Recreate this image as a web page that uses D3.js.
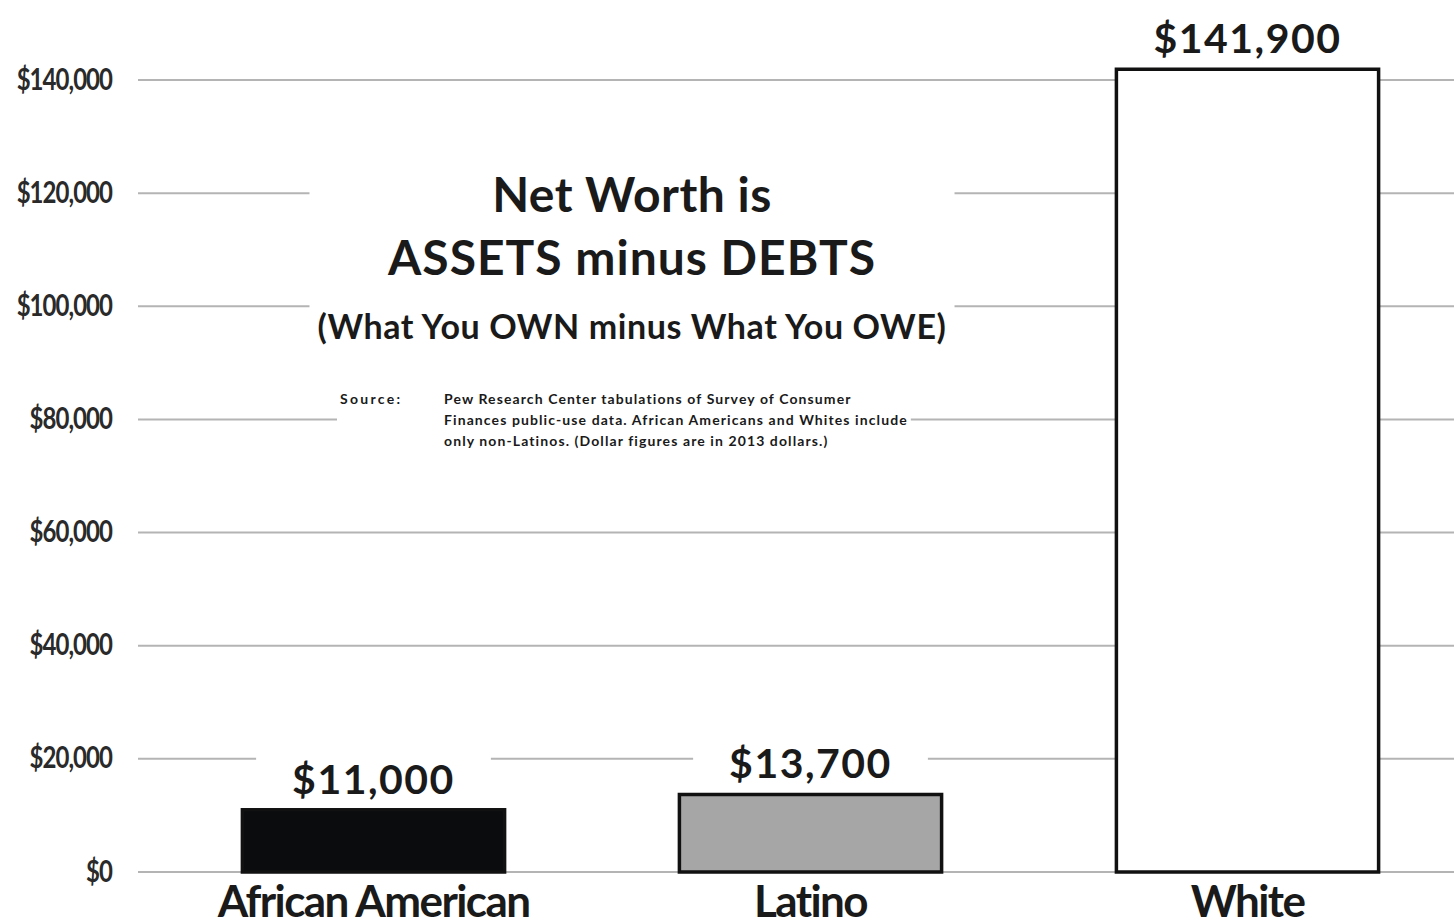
<!DOCTYPE html>
<html>
<head>
  <style>
    body { margin: 0; background: #fff; }
    .tick text { font-family: Lato, "Open Sans", sans-serif; font-weight: bold; }
    .bold { font-family: Lato, "Open Sans", sans-serif; font-weight: bold; fill: #1a1a1a; }
  </style>
  <script src="https://d3js.org/d3.v7.min.js"></script>
</head>
<body>
  <svg width="1454" height="920"></svg>
  <script>
    var groups = ["African American", "Latino", "White"];
    var netWorth = [11000, 13700, 141900];
    var valueLabels = ["$11,000", "$13,700", "$141,900"];
    var fills = ["#0a0c0d", "#a6a6a6", "#ffffff"];
    var yTicks = [0, 20000, 40000, 60000, 80000, 100000, 120000, 140000];
    var sourceLines = [
      "Pew Research Center tabulations of Survey of Consumer",
      "Finances public-use data. African Americans and Whites include",
      "only non-Latinos. (Dollar figures are in 2013 dollars.)"
    ];

    var svg = d3.select("svg");
    var width = 1454, height = 920;

    var x = d3.scaleBand().domain(groups).range([155, 1466]).paddingInner(0.4).paddingOuter(0.2);
    var y = d3.scaleLinear().domain([0, 140000]).range([872, 80]);

    // grid lines
    var grid = svg.append("g");
    grid.selectAll("line").data(yTicks).enter().append("line")
      .attr("x1", 138).attr("x2", width)
      .attr("y1", function (d) { return y(d); }).attr("y2", function (d) { return y(d); })
      .attr("stroke", "#b4b4b4").attr("stroke-width", 2);

    // y axis labels (condensed look)
    var yAxis = svg.append("g").attr("transform", "translate(112,0)")
      .call(d3.axisLeft(y).tickValues(yTicks).tickSize(0).tickPadding(0)
        .tickFormat(function (d) { return "$" + d3.format(",")(d); }));
    yAxis.select(".domain").remove();
    yAxis.selectAll("text").attr("font-size", 30).attr("fill", "#2a2a2a")
      .attr("letter-spacing", -1.2).attr("dy", "0.3em")
      .attr("transform", "scale(0.8,1)");

    // helper: white box behind a text group
    function knockout(g, padX, padY) {
      var b = g.node().getBBox();
      g.insert("rect", ":first-child")
        .attr("x", b.x - padX).attr("y", b.y - padY)
        .attr("width", b.width + 2 * padX).attr("height", b.height + 2 * padY)
        .attr("fill", "#fff");
    }

    // title block
    var title = svg.append("g");
    title.append("text").attr("class", "bold").attr("x", 632).attr("y", 212)
      .attr("text-anchor", "middle").attr("font-size", 48).attr("letter-spacing", 0.5).text("Net Worth is");
    title.append("text").attr("class", "bold").attr("x", 632).attr("y", 275)
      .attr("text-anchor", "middle").attr("font-size", 48).attr("letter-spacing", 1).text("ASSETS minus DEBTS");
    title.append("text").attr("class", "bold").attr("x", 632).attr("y", 339)
      .attr("text-anchor", "middle").attr("font-size", 34).attr("letter-spacing", 0.6).text("(What You OWN minus What You OWE)");
    knockout(title, 8, 6);

    var src = svg.append("g");
    src.append("text").attr("class", "bold").attr("x", 340).attr("y", 404)
      .attr("font-size", 14).attr("letter-spacing", 2.3).text("Source:");
    src.selectAll("text.line").data(sourceLines).enter().append("text")
      .attr("class", "bold line").attr("x", 444)
      .attr("y", function (d, i) { return 404 + i * 21; })
      .attr("font-size", 14).attr("letter-spacing", 1.1).text(function (d) { return d; });
    knockout(src, 3, 2);

    // bars
    svg.append("g").selectAll("rect").data(groups).enter().append("rect")
      .attr("x", function (d) { return x(d); })
      .attr("y", function (d, i) { return y(netWorth[i]); })
      .attr("width", x.bandwidth())
      .attr("height", function (d, i) { return y(0) - y(netWorth[i]); })
      .attr("fill", function (d, i) { return fills[i]; })
      .attr("stroke", "#111").attr("stroke-width", 3.5);

    // value labels
    groups.forEach(function (d, i) {
      var g = svg.append("g");
      g.append("text").attr("class", "bold")
        .attr("x", x(d) + x.bandwidth() / 2)
        .attr("y", y(netWorth[i]) - 16)
        .attr("text-anchor", "middle").attr("font-size", 41).attr("letter-spacing", 1.5)
        .text(valueLabels[i]);
      knockout(g, 36, 0);
      g.raise();
    });

    // category labels
    svg.append("g").selectAll("text").data(groups).enter().append("text")
      .attr("class", "bold")
      .attr("x", function (d) { return x(d) + x.bandwidth() / 2; })
      .attr("y", 917)
      .attr("text-anchor", "middle").attr("font-size", 44).attr("letter-spacing", -1.6)
      .text(function (d) { return d; });
  </script>
</body>
</html>
